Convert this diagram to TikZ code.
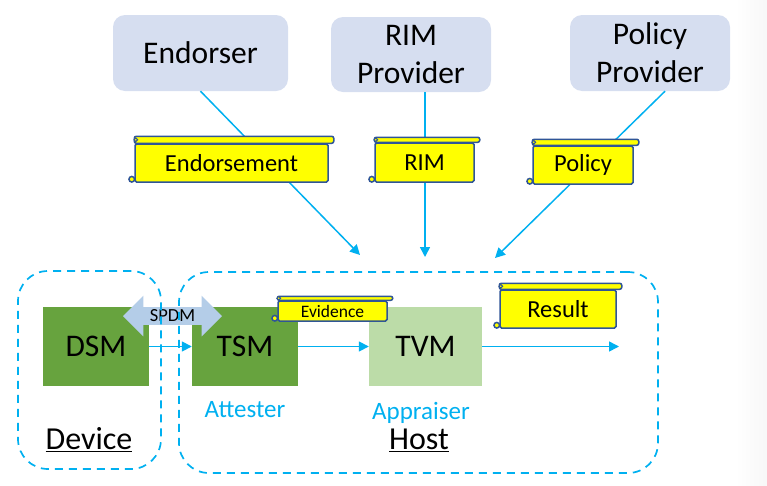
\documentclass[tikz,border=0pt]{standalone}
\usepackage{fontspec}
\setmainfont{Carlito}
\usetikzlibrary{arrows.meta, shapes.arrows}
\definecolor{partyFill}{RGB}{214,222,240}
\definecolor{linkBlue}{RGB}{0,176,240}
\definecolor{scrollFill}{RGB}{255,255,0}
\definecolor{scrollEdge}{RGB}{47,85,151}
\definecolor{tsmGreen}{RGB}{103,163,62}
\definecolor{tvmGreen}{RGB}{188,220,168}
\definecolor{spdmBlue}{RGB}{180,205,232}
\tikzset{
    party/.style={
        rounded corners=12pt, fill=partyFill, inner sep=0pt,
        font=\fontsize{31.5}{38}\selectfont, align=center,
    },
    scrollbody/.style={
        rectangle, rounded corners=1.5pt, draw=scrollEdge, fill=scrollFill,
        line width=1.5pt, inner sep=0pt, font=\fontsize{24.5}{26}\selectfont,
    },
    scrollline/.style={
        draw=scrollEdge, fill=scrollFill, line width=1.5pt,
    },
    module/.style={
        rectangle, inner sep=0pt, minimum height=79pt,
        font=\fontsize{31.5}{34}\selectfont,
    },
    zone/.style={
        draw=linkBlue, line width=1.7pt, rounded corners=30pt,
        dash pattern=on 8pt off 6pt, inner sep=0pt,
    },
    link/.style={
        -{Triangle[length=10pt, width=10pt]}, line width=1.5pt, draw=linkBlue,
    },
    role/.style={
        font=\fontsize{25}{27}\selectfont, text=linkBlue, inner sep=0pt,
    },
    place/.style={
        font=\fontsize{32}{34}\selectfont, inner sep=0pt,
    },
}
% roll at the top of a scroll, and its curl at the bottom left
\newcommand{\scrollroll}[2]{%
    \draw[scrollline, rounded corners=2pt]
        ([yshift=#2]#1.north west) rectangle ([xshift=5pt]#1.north east);
    \draw[scrollline, line width=1pt]
        ([xshift=1.5pt, yshift=0.5*#2]#1.north west) circle (1.8pt);
    \draw[scrollline] ([xshift=-2.5pt, yshift=3.5pt]#1.south west) circle (2.8pt);
}

\begin{document}
\begin{tikzpicture}[x=1pt, y=-1pt]
\useasboundingbox (0,0) rectangle (767,485);

% --- faint band down the right edge
\shade[left color=white, right color=black!3] (735,0) rectangle (767,485);

% --- parties at the top
\node[party, minimum width=175pt, minimum height=76pt] (endorser) at (200.5,53) {Endorser};
\node[party, minimum width=160pt, minimum height=75pt] (rimprov)  at (411,54.5) {RIM\\Provider};
\node[party, minimum width=160pt, minimum height=76pt] (polprov)  at (650,53) {Policy\\Provider};

% --- free ends of the arrows
\coordinate (hostE) at (360,255);
\coordinate (hostR) at (425,257);
\coordinate (hostP) at (495,258);
\coordinate (out)   at (619,346.5);

% --- arrows into the host, scrolls go over them
\draw[link] (endorser.south) -- (hostE);
\draw[link] ([xshift=14pt]rimprov.south) -- (hostR);
\draw[link] ([xshift=15pt]polprov.south) -- (hostP);

% --- modules
\node[module, fill=tsmGreen, minimum width=106pt] (dsm) at (96,346.5) {DSM};
\node[module, fill=tsmGreen, minimum width=106pt] (tsm) at (245,346.5) {TSM};
\node[module, fill=tvmGreen, minimum width=113pt] (tvm) at (425.5,346.5) {TVM};

\draw[link] (dsm) -- (tsm);
\draw[link] (tsm) -- (tvm);
\draw[link] (tvm) -- (out);

% --- spdm
\node[double arrow, fill=spdmBlue, minimum height=99pt, minimum width=40pt,
      double arrow head extend=11.5pt, inner xsep=0pt, inner ysep=2.5pt,
      font=\fontsize{18.5}{20}\selectfont] (spdm) at (172.5,316) {SPDM};

% --- dashed zones
\node[zone, minimum width=143pt, minimum height=198pt] (device) at (89.5,370) {};
\node[zone, minimum width=479pt, minimum height=201pt] (host)   at (418.5,372.5) {};

% --- scrolls
\node[scrollbody, minimum width=193pt, minimum height=38pt] (endorsement) at (231.5,163) {Endorsement};
\scrollroll{endorsement}{7pt}
\node[scrollbody, minimum width=99pt, minimum height=39pt] (rim) at (424.5,162.5) {RIM};
\scrollroll{rim}{5pt}
\node[scrollbody, minimum width=100pt, minimum height=38pt] (policy) at (583,165) {Policy};
\scrollroll{policy}{6pt}
\node[scrollbody, minimum width=109pt, minimum height=20pt,
      font=\fontsize{17.5}{19}\selectfont] (evidence) at (332.5,311) {Evidence};
\scrollroll{evidence}{4pt}
\node[scrollbody, minimum width=116pt, minimum height=38pt] (result) at (558,309) {Result};
\scrollroll{result}{6pt}

% --- labels
\node[role] (attester) at (245,410) {Attester};
\node[role] (appraiser) at (421,413) {Appraiser};
\node[place] (devicelab) at (89,440) {\underline{Device}};
\node[place] (hostlab) at (419,440.5) {\underline{Host}};

\end{tikzpicture}
\end{document}
